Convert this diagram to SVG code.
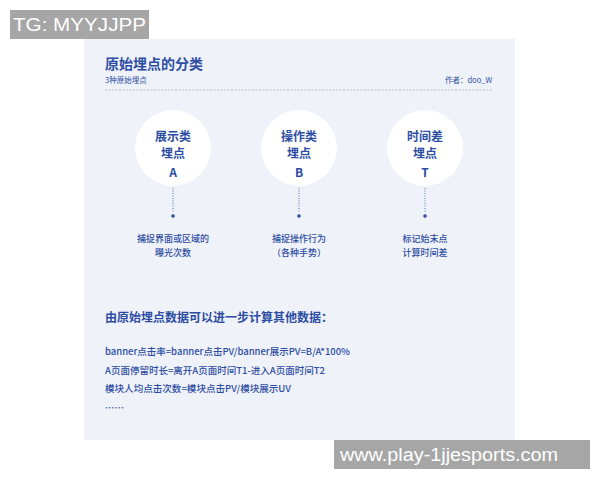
<svg xmlns="http://www.w3.org/2000/svg" width="600" height="480" viewBox="0 0 600 480">
<defs>
<style>
.t{font-family:"Noto Sans CJK SC","Liberation Sans",sans-serif;fill:#2d4da3}
.c{fill:#ffffff}
.n{font-size:12px;font-weight:bold;text-anchor:middle}
.l{font-size:9px;font-weight:500;text-anchor:middle}
.f{font-size:9.5px;font-weight:500}
.wm{font-family:"Liberation Sans",sans-serif;fill:#ffffff;font-size:18px}
</style>
</defs>
<rect x="0" y="0" width="600" height="480" fill="#ffffff"/>
<rect x="84" y="39" width="431" height="401" fill="#eff2f8"/>
<g id="header">
<text class="t" x="105" y="69" font-size="14" font-weight="bold">原始埋点的分类</text>
<text class="t" x="105" y="83" font-size="7.5">3种原始埋点</text>
<text class="t" x="492" y="83" font-size="7.5" text-anchor="end">作者：doo_W</text>
<line x1="105" y1="90" x2="492" y2="90" stroke="#a9b3c9" stroke-width="0.8" stroke-dasharray="2,1.5"/>
</g>
<g id="connectors" stroke="#2d4da3" stroke-width="0.8" stroke-dasharray="1,1.5" fill="#2d4da3">
<line x1="173" y1="188" x2="173" y2="213"/>
<line x1="299" y1="188" x2="299" y2="213"/>
<line x1="425" y1="188" x2="425" y2="213"/>
<circle cx="173" cy="216" r="1.8" stroke="none"/>
<circle cx="299" cy="216" r="1.8" stroke="none"/>
<circle cx="425" cy="216" r="1.8" stroke="none"/>
</g>
<g id="nodeA">
<circle class="c" cx="173" cy="148" r="38"/>
<text class="t n" x="173" y="141">展示类</text>
<text class="t n" x="173" y="158">埋点</text>
<text class="t n" x="173" y="177" font-weight="normal">A</text>
<text class="t l" x="173" y="242">捕捉界面或区域的</text>
<text class="t l" x="173" y="256">曝光次数</text>
</g>
<g id="nodeB">
<circle class="c" cx="299" cy="148" r="38"/>
<text class="t n" x="299" y="141">操作类</text>
<text class="t n" x="299" y="158">埋点</text>
<text class="t n" x="299" y="177" font-weight="normal">B</text>
<text class="t l" x="299" y="242">捕捉操作行为</text>
<text class="t l" x="299" y="256">（各种手势）</text>
</g>
<g id="nodeT">
<circle class="c" cx="425" cy="148" r="38"/>
<text class="t n" x="425" y="141">时间差</text>
<text class="t n" x="425" y="158">埋点</text>
<text class="t n" x="425" y="177" font-weight="normal">T</text>
<text class="t l" x="425" y="242">标记始末点</text>
<text class="t l" x="425" y="256">计算时间差</text>
</g>
<g id="formulas">
<text class="t" x="105" y="322" font-size="12" font-weight="bold">由原始埋点数据可以进一步计算其他数据：</text>
<text class="t f" x="105" y="355" textLength="245" lengthAdjust="spacingAndGlyphs">banner点击率=banner点击PV/banner展示PV=B/A*100%</text>
<text class="t f" x="105" y="374" textLength="220" lengthAdjust="spacingAndGlyphs">A页面停留时长=离开A页面时间T1-进入A页面时间T2</text>
<text class="t f" x="105" y="392" textLength="186" lengthAdjust="spacingAndGlyphs">模块人均点击次数=模块点击PV/模块展示UV</text>
<text class="t f" x="105" y="411">……</text>
</g>
<g id="watermarks">
<rect x="10" y="10" width="139" height="29" fill="#a6a6a6"/>
<text class="wm" x="13" y="31" textLength="133" lengthAdjust="spacingAndGlyphs">TG: MYYJJPP</text>
<rect x="334" y="440" width="256" height="29" fill="#a6a6a6"/>
<text class="wm" x="340" y="461" textLength="218" lengthAdjust="spacingAndGlyphs">www.play-1jjesports.com</text>
</g>
</svg>
